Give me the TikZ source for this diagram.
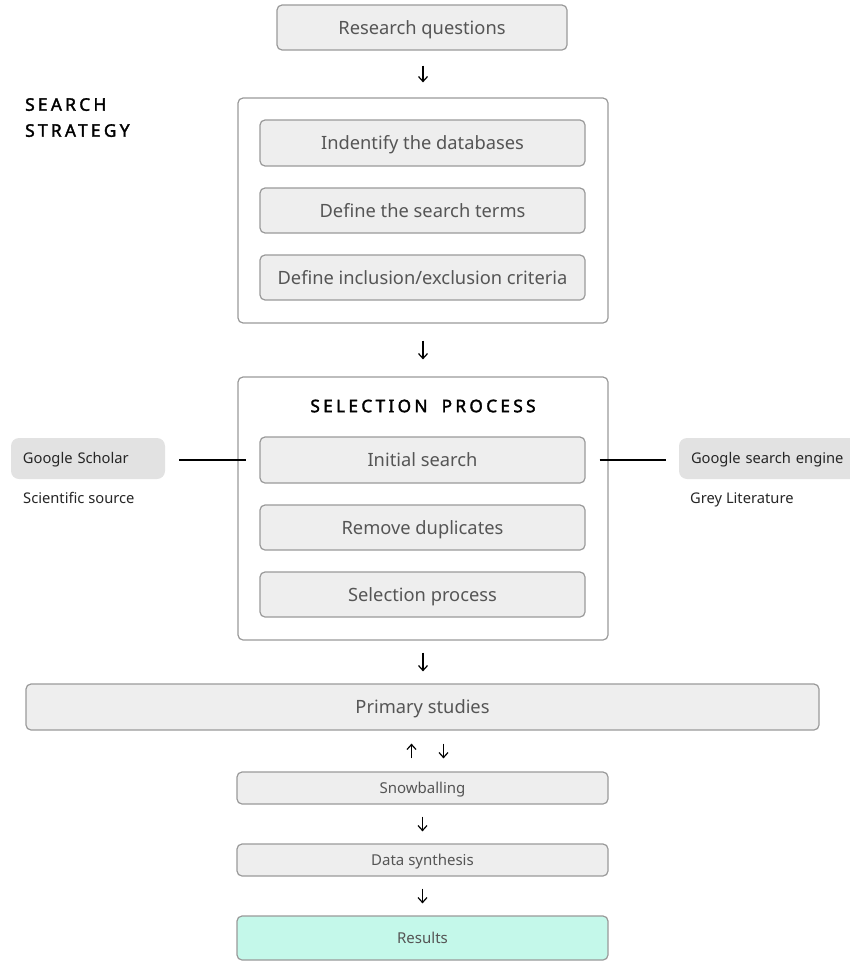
\documentclass[tikz,border=0pt]{standalone}
\usepackage{fontspec}
\setmainfont{Noto Sans}
\newfontfamily\spacedfont[LetterSpace=19, FakeBold=2, WordSpace=1.8]{Noto Sans}
\usetikzlibrary{arrows.meta}
\definecolor{boxfill}{HTML}{EEEEEE}
\definecolor{boxline}{HTML}{9A9A9A}
\definecolor{sidefill}{HTML}{E2E2E2}
\definecolor{txt}{HTML}{555555}
\definecolor{mint}{HTML}{C4F8EA}
\tikzset{
  stepbox/.style={draw=boxline, line width=1.2pt, fill=boxfill, rounded corners=5pt, text=txt, font=\fontsize{18.3}{20}\selectfont, inner sep=0pt, text height=0pt, text depth=0pt},
  smallbox/.style={stepbox, font=\fontsize{15}{17}\selectfont},
  groupbox/.style={draw=boxline, line width=1.2pt, fill=white, rounded corners=5pt, inner sep=0pt},
  sidebox/.style={fill=sidefill, rounded corners=8pt, inner sep=0pt, text=black!85, font=\fontsize{14.7}{17}\selectfont, text height=0pt, text depth=0pt},
  sidelabel/.style={text=black!85, font=\fontsize{14.7}{17}\selectfont, anchor=base west, inner sep=0pt},
  flow/.style={-{Straight Barb[length=5pt,width=9pt]}, line width=1.2pt, black},
  link/.style={line width=1.2pt, black},
  heading/.style={font=\spacedfont\fontsize{17.3}{26}\selectfont, text=black, inner sep=0pt}
}
\begin{document}
\begin{tikzpicture}[x=1pt,y=-1pt]
\useasboundingbox (0,0) rectangle (849,961);
% top
\node[stepbox, minimum width=290, minimum height=45] (rq) at (422,27.5) {\raisebox{-6.5pt}{Research questions}};
% search strategy group
\node[groupbox, minimum width=370, minimum height=225] (ss) at (423,210.5) {};
\node[heading, align=left, anchor=north west] (sslabel) at (25,98) {SEARCH\\STRATEGY};
\node[stepbox, minimum width=325, minimum height=46] (db) at (422.5,143) {\raisebox{-6.5pt}{Indentify the databases}};
\node[stepbox, minimum width=325, minimum height=45] (terms) at (422.5,210.5) {\raisebox{-6.5pt}{Define the search terms}};
\node[stepbox, minimum width=325, minimum height=45] (crit) at (422.5,277.5) {\raisebox{-6.5pt}{Define inclusion/exclusion criteria}};
% selection process group
\node[groupbox, minimum width=370, minimum height=263] (sp) at (423,508.5) {};
\node[heading] (splabel) at (423,406) {SELECTION PROCESS};
\node[stepbox, minimum width=325, minimum height=46] (init) at (422.5,460) {\raisebox{-6.5pt}{Initial search}};
\node[stepbox, minimum width=325, minimum height=45] (dup) at (422.5,527.5) {\raisebox{-6.5pt}{Remove duplicates}};
\node[stepbox, minimum width=325, minimum height=45] (sel) at (422.5,594.5) {\raisebox{-6.5pt}{Selection process}};
% side sources
\node[sidebox, minimum width=154, minimum height=41, text width=130, align=left] (gs) at (88,458.5) {\raisebox{-5.2pt}{Google Scholar}};
\node[sidelabel] (gslabel) at (23,503.5) {Scientific source};
\node[sidebox, minimum width=190, minimum height=41, text width=166, align=left] (gse) at (774,458.5) {\raisebox{-5.2pt}{Google search engine}};
\node[sidelabel] (gselabel) at (690,503.5) {Grey Literature};
\draw[link, shorten <=14pt, shorten >=13pt] (gs.east |- init.west) -- (init.west);
\draw[link, shorten <=14pt, shorten >=13pt] (init.east) -- (gse.west |- init.east);
% primary studies and after
\node[stepbox, minimum width=793, minimum height=46] (ps) at (422.5,707) {\raisebox{-6.5pt}{Primary studies}};
\node[smallbox, minimum width=371, minimum height=32] (snow) at (422.5,788) {\raisebox{-5.3pt}{Snowballing}};
\node[smallbox, minimum width=371, minimum height=32] (syn) at (422.5,860) {\raisebox{-5.3pt}{Data synthesis}};
\node[smallbox, fill=mint, minimum width=371, minimum height=44] (res) at (422.5,938) {\raisebox{-5.3pt}{Results}};
% arrows
\draw[flow, shorten <=15pt, shorten >=15pt] (rq.south -| 423,0) -- (ss.north -| 423,0);
\draw[flow, shorten <=17pt, shorten >=17pt] (ss.south) -- (sp.north);
\draw[flow, shorten <=12pt, shorten >=12pt] (sp.south) -- (ps.north -| sp.south);
\draw[flow, shorten <=13pt, shorten >=13pt] ([xshift=-11pt]snow.north) -- ([xshift=-11pt]ps.south);
\draw[flow, shorten <=13pt, shorten >=13pt] ([xshift=21pt]ps.south) -- ([xshift=21pt]snow.north);
\draw[flow, shorten <=12pt, shorten >=12pt] (snow.south) -- (syn.north);
\draw[flow, shorten <=12pt, shorten >=12pt] (syn.south) -- (res.north);
\end{tikzpicture}
\end{document}
